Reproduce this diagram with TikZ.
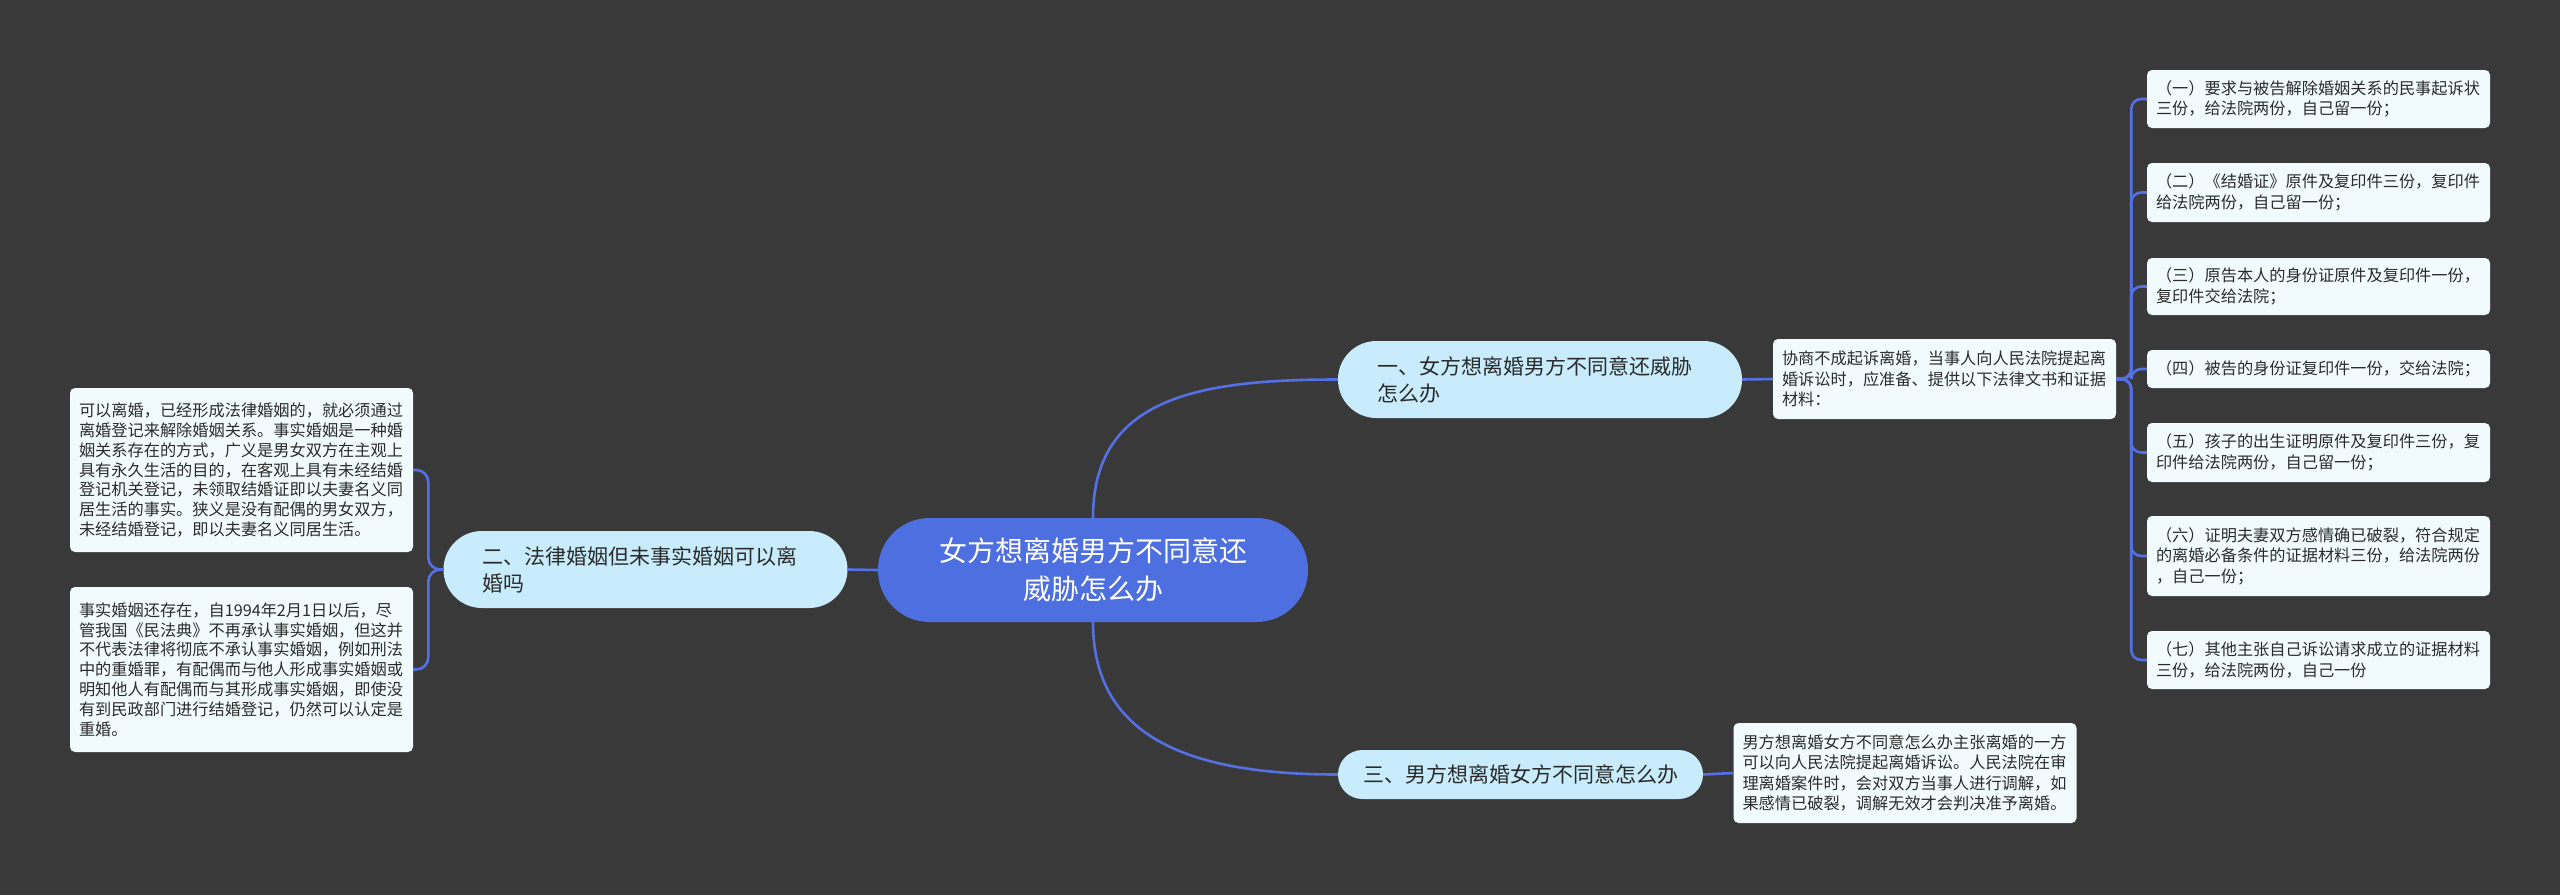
\documentclass[tikz,border=0pt]{standalone}
\usepackage{fontspec}
\setmainfont{Noto Sans CJK SC}
\definecolor{bg}{HTML}{3A393A}
\definecolor{link}{HTML}{5470E2}
\definecolor{rootfill}{HTML}{4E6FE0}
\definecolor{branchfill}{HTML}{C8ECFC}
\definecolor{leaffill}{HTML}{F1FBFD}
\definecolor{txt}{HTML}{2B2B2B}
\begin{document}
\begin{tikzpicture}[x=1pt,y=-1pt,
  conn/.style={draw=link, line width=2.6pt},
  rootnode/.style={fill=rootfill, rounded corners=51.5pt, minimum width=430pt, minimum height=104pt, inner sep=0pt, text=white, font=\fontsize{28}{38}\selectfont, align=center},
  branchnode/.style={fill=branchfill, rounded corners=38.4pt, text width=326pt, inner xsep=39pt, inner ysep=0pt, minimum height=77pt, text=txt, font=\fontsize{21}{27}\selectfont, align=left},
  branchone/.style={fill=branchfill, rounded corners=24.4pt, text width=315pt, inner xsep=25pt, inner ysep=0pt, minimum height=49pt, text=txt, font=\fontsize{21}{27}\selectfont, align=center},
  leafnode/.style={fill=leaffill, rounded corners=5pt, text width=325pt, inner xsep=9pt, inner ysep=0pt, text=txt, font=\fontsize{16.2}{20.5}\selectfont, align=left}
]
\path[fill=bg] (0,0) rectangle (2560,895);

\node[rootnode] (root) at (1093,570) {女方想离婚男方不同意还\\威胁怎么办};

\node[branchnode] (b1) at (1540,379.5) {一、女方想离婚男方不同意还威胁\\怎么办};
\node[branchnode] (b2) at (645.5,569.5) {二、法律婚姻但未事实婚姻可以离\\婚吗};
\node[branchone] (b3) at (1520.5,774.5) {三、男方想离婚女方不同意怎么办};

\node[leafnode, minimum height=80pt] (d1) at (1944.5,379) {协商不成起诉离婚，当事人向人民法院提起离\\婚诉讼时，应准备、提供以下法律文书和证据\\材料：};
\node[leafnode, minimum height=100pt] (d3) at (1905,773) {男方想离婚女方不同意怎么办主张离婚的一方\\可以向人民法院提起离婚诉讼。人民法院在审\\理离婚案件时，会对双方当事人进行调解，如\\果感情已破裂，调解无效才会判决准予离婚。};

\node[leafnode, minimum height=164pt, font=\fontsize{16.2}{19.8}\selectfont] (l1) at (241.5,470) {可以离婚，已经形成法律婚姻的，就必须通过\\离婚登记来解除婚姻关系。事实婚姻是一种婚\\姻关系存在的方式，广义是男女双方在主观上\\具有永久生活的目的，在客观上具有未经结婚\\登记机关登记，未领取结婚证即以夫妻名义同\\居生活的事实。狭义是没有配偶的男女双方，\\未经结婚登记，即以夫妻名义同居生活。};
\node[leafnode, minimum height=165pt, font=\fontsize{16.2}{19.8}\selectfont] (l2) at (241.5,669.5) {事实婚姻还存在，自1994年2月1日以后，尽\\管我国《民法典》不再承认事实婚姻，但这并\\不代表法律将彻底不承认事实婚姻，例如刑法\\中的重婚罪，有配偶而与他人形成事实婚姻或\\明知他人有配偶而与其形成事实婚姻，即使没\\有到民政部门进行结婚登记，仍然可以认定是\\重婚。};

\node[leafnode, minimum height=58pt] (r1) at (2318.5,99) {（一）要求与被告解除婚姻关系的民事起诉状\\三份，给法院两份，自己留一份；};
\node[leafnode, minimum height=59pt] (r2) at (2318.5,192.5) {（二）《结婚证》原件及复印件三份，复印件\\给法院两份，自己留一份；};
\node[leafnode, minimum height=57pt] (r3) at (2318.5,286.5) {（三）原告本人的身份证原件及复印件一份，\\复印件交给法院；};
\node[leafnode, minimum height=38pt] (r4) at (2318.5,369) {（四）被告的身份证复印件一份，交给法院；};
\node[leafnode, minimum height=59pt] (r5) at (2318.5,452.5) {（五）孩子的出生证明原件及复印件三份，复\\印件给法院两份，自己留一份；};
\node[leafnode, minimum height=80pt] (r6) at (2318.5,556) {（六）证明夫妻双方感情确已破裂，符合规定\\的离婚必备条件的证据材料三份，给法院两份\\，自己一份；};
\node[leafnode, minimum height=58pt] (r7) at (2318.5,660) {（七）其他主张自己诉讼请求成立的证据材料\\三份，给法院两份，自己一份};

\draw[conn] (root.north) .. controls +(0,-120) and +(-140,0) .. (b1.west);
\draw[conn] (root.south) .. controls +(0,120) and +(-140,0) .. (b3.west);
\draw[conn] (root.west) -- (b2.east);
\draw[conn] (b1.east) -- (d1.west);
\draw[conn] (b3.east) -- (d3.west);
\foreach \r in {r1,r2,r3,r4,r5,r6,r7}
  \draw[conn, rounded corners=10pt] (d1.east) -- ++(15,0) |- (\r.west);
\draw[conn, rounded corners=12pt] (b2.west) -- ++(-15,0) |- (l1.east);
\draw[conn, rounded corners=12pt] (b2.west) -- ++(-15,0) |- (l2.east);
\end{tikzpicture}
\end{document}
